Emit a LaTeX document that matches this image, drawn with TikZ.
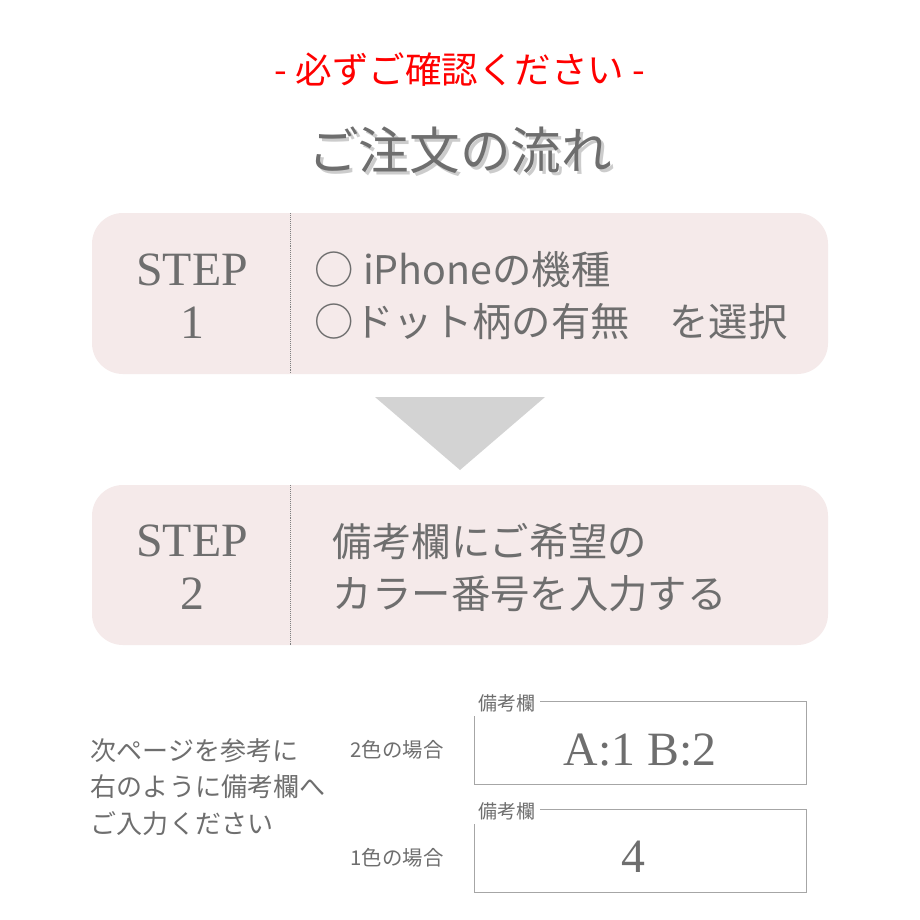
\documentclass[tikz,border=0pt]{standalone}
\usepackage{fontspec}
\setmainfont{Liberation Serif}
\newfontfamily\cjk{Noto Sans CJK JP}
\usetikzlibrary{positioning}
\definecolor{boxpink}{HTML}{F5EAEA}
\definecolor{txtgray}{HTML}{6E6E6E}
\definecolor{arrgray}{HTML}{D3D3D3}
\tikzset{
  stepbox/.style={fill=boxpink, draw=none, rounded corners=22},
  steptext/.style={font=\fontsize{34}{38}\selectfont, text=txtgray, align=center},
  bodytext/.style={font=\cjk\fontsize{28}{37}\selectfont, text=txtgray, anchor=west, align=left},
  memo/.style={draw=gray!70, line width=0.6pt},
  memolabel/.style={font=\cjk\fontsize{13.5}{15}\selectfont, text=txtgray, fill=white, inner sep=3pt, anchor=west}
}
\begin{document}
\begin{tikzpicture}[x=0.025cm, y=-0.025cm]
	\useasboundingbox[fill=white] (0,0) rectangle (920,920);

	% heading
	\node[font=\cjk\fontsize{26}{30}\selectfont, text=red] (notice) at (460,70) {- 必ずご確認ください -};
	\node[font=\cjk\fontsize{36}{40}\selectfont, text=gray!40] at (463,153) {ご注文の流れ};
	\node[font=\cjk\fontsize{36}{40}\selectfont, text=txtgray] (title) at (460,150) {ご注文の流れ};

	% step 1
	\fill[stepbox] (92,213) rectangle (828,374);
	\draw[gray, densely dotted] (290,213) -- (290,374);
	\node[steptext] (step1) at (192,296) {STEP\\1};
	\node[bodytext] (body1) at (310,296) {○ iPhoneの機種\\○ドット柄の有無　を選択};

	% arrow
	\fill[arrgray] (375,397) -- (545,397) -- (460,470) -- cycle;

	% step 2
	\fill[stepbox] (92,485) rectangle (828,645);
	\draw[gray, densely dotted] (290,485) -- (290,645);
	\node[steptext] (step2) at (192,567) {STEP\\2};
	\node[bodytext] (body2) at (328,568) {備考欄にご希望の\\カラー番号を入力する};

	% memo examples
	\node[font=\cjk\fontsize{18.5}{26}\selectfont, text=txtgray, align=left, anchor=west] (hint) at (86,787) {次ページを参考に\\右のように備考欄へ\\ご入力ください};
	\node[font=\cjk\fontsize{14.5}{16}\selectfont, text=txtgray] (two) at (397,750) {2色の場合};
	\node[font=\cjk\fontsize{14.5}{16}\selectfont, text=txtgray] (one) at (397,858) {1色の場合};

	\draw[memo] (474,701) rectangle (806,784);
	\node[memolabel] (lab2) at (474,703) {備考欄};
	\node[font=\fontsize{34}{38}\selectfont, text=txtgray] (val2) at (640,750) {A:1 B:2};

	\draw[memo] (474,809) rectangle (806,892);
	\node[memolabel] (lab1) at (474,811) {備考欄};
	\node[font=\fontsize{34}{38}\selectfont, text=txtgray] (val1) at (633,857) {4};
\end{tikzpicture}
\end{document}
